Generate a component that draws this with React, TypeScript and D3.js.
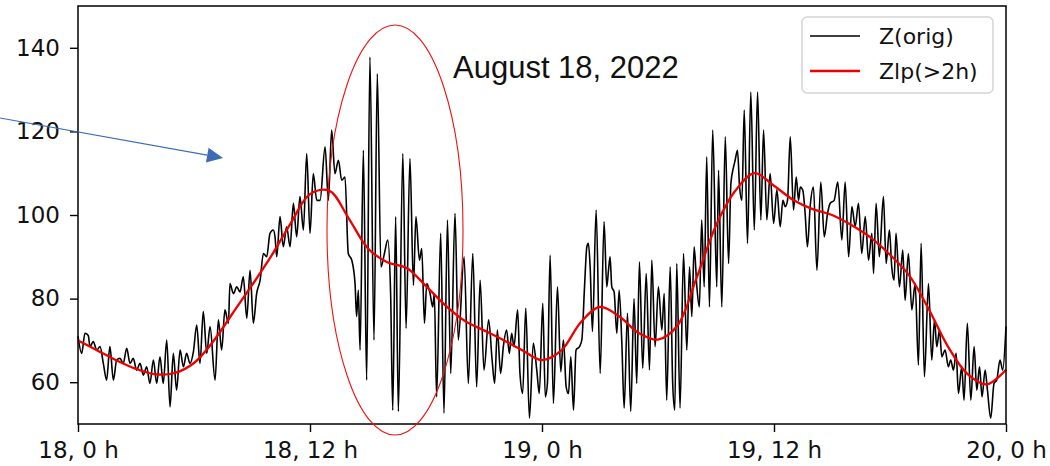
import React, { useEffect, useRef } from "react";
import * as d3 from "d3";

// Z(orig): hand-read vertices (hours since 18 Aug 0 h)
const origHours = [
  0, 0.19, 0.36, 0.53, 0.62, 0.79, 0.97, 1.14, 1.31, 1.48, 1.65, 1.83, 2.0, 2.17, 2.34, 2.52, 2.69, 2.86, 3.03, 3.21,
  3.38, 3.55, 3.72, 3.9, 4.07, 4.24, 4.41, 4.59, 4.76, 4.93, 5.1, 5.28, 5.45, 5.62, 5.79, 5.97, 6.14, 6.31, 6.48, 6.66,
  6.83, 7.09, 7.26, 7.43, 7.6, 7.78, 7.86, 8.04, 8.21, 8.38, 8.55, 8.73, 8.9, 9.07, 9.24, 9.42, 9.59, 9.76, 9.93, 10.1,
  10.19, 10.28, 10.45, 10.62, 10.79, 10.97, 11.14, 11.31, 11.48, 11.66, 11.83, 12.0, 12.17, 12.35, 12.52, 12.78, 12.95, 13.12, 13.29, 13.47,
  13.64, 13.81, 13.98, 14.16, 14.33, 14.41, 14.5, 14.59, 14.76, 14.93, 15.1, 15.31, 15.48, 15.67, 15.85, 16.02, 16.17, 16.28, 16.43, 16.57,
  16.8, 16.97, 17.17, 17.35, 17.48, 17.66, 17.78, 17.92, 18.04, 18.21, 18.35, 18.43, 18.55, 18.76, 18.93, 19.11, 19.28, 19.5, 19.67, 19.97,
  20.19, 20.42, 20.62, 20.8, 21.0, 21.24, 21.42, 21.55, 21.69, 21.86, 22.0, 22.17, 22.31, 22.43, 22.55, 22.74, 22.86, 23.0, 23.16, 23.35,
  23.55, 23.73, 23.86, 24.04, 24.17, 24.28, 24.42, 24.59, 24.8, 24.97, 25.11, 25.25, 25.37, 25.49, 25.63, 25.76, 25.94, 26.06, 26.2, 26.32,
  26.4, 26.49, 26.61, 26.8, 27.01, 27.21, 27.35, 27.44, 27.52, 27.61, 27.73, 27.87, 27.99, 28.13, 28.25, 28.42, 28.59, 28.76, 28.9, 29.04,
  29.21, 29.39, 29.56, 29.68, 29.85, 30.02, 30.2, 30.32, 30.45, 30.63, 30.76, 30.87, 30.97, 31.14, 31.32, 31.49, 31.63, 31.75, 31.87, 32.01,
  32.14, 32.26, 32.39, 32.52, 32.66, 32.83, 33.04, 33.13, 33.3, 33.48, 33.65, 33.77, 33.91, 33.99, 34.11, 34.22, 34.34, 34.46, 34.63, 34.8,
  34.98, 35.15, 35.32, 35.46, 35.63, 35.8, 35.98, 36.15, 36.32, 36.46, 36.58, 36.7, 36.84, 37.01, 37.15, 37.27, 37.36, 37.49, 37.61, 37.73,
  37.87, 38.04, 38.22, 38.42, 38.6, 38.77, 38.91, 39.11, 39.3, 39.51, 39.68, 39.86, 40.03, 40.2, 40.37, 40.54, 40.72, 40.89, 41.06, 41.15,
  41.28, 41.45, 41.66, 41.8, 41.97, 42.09, 42.21, 42.31, 42.49, 42.66, 42.78, 42.95, 43.13, 43.3, 43.47, 43.61, 43.78, 43.99, 44.16, 44.3,
  44.42, 44.56, 44.68, 44.85, 45.02, 45.14, 45.28, 45.42, 45.54, 45.71, 45.83, 46.0, 46.18, 46.35, 46.49, 46.63, 46.76, 46.92, 47.04, 47.21,
  47.38, 47.52, 47.69, 47.83, 48.0,
];
const origZ = [
  71, 66.9, 71.7, 71.2, 68.5, 69.7, 67.7, 68.5, 64.5, 60.5, 68.5, 60.5, 65.3, 65.7, 64.5, 68.1, 64.5, 65.7, 62.9, 64.5,
  61.7, 63.7, 59.7, 65.3, 59.7, 66.1, 59.7, 70.1, 54.1, 66.9, 58.1, 67.7, 63.7, 66.9, 64.5, 67.3, 73.7, 64.5, 76.9, 66.9,
  73.3, 60.5, 74.9, 67.7, 77.3, 74.1, 83.6, 81.2, 82.8, 81.6, 85.2, 75.3, 86.8, 74.1, 81.2, 84.4, 90.8, 90.0, 95.6, 96.4,
  94.8, 90.0, 99.6, 92.4, 97.2, 92.4, 102.8, 94.8, 104.4, 96.4, 114.7, 95.6, 109.9, 103.5, 103.5, 116.3, 103.5, 120.3, 109.9, 113.1,
  108.3, 109.1, 90.8, 89.2, 83.6, 75.7, 82.0, 67.7, 115.5, 60.5, 137.8, 70.1, 133.8, 87.6, 90.8, 94.0, 81.2, 53.3, 99.6, 53.0,
  114.7, 72.9, 113.5, 83.2, 99.6, 89.2, 92.0, 74.1, 83.6, 81.2, 78.0, 81.2, 56.5, 95.6, 52.6, 98.8, 62.1, 100.4, 70.1, 90.0,
  59.7, 90.8, 58.9, 84.4, 62.9, 74.9, 65.3, 59.7, 72.5, 62.1, 68.5, 72.5, 66.9, 71.7, 68.5, 77.3, 62.1, 57.3, 77.7, 51.4,
  69.3, 62.9, 57.3, 78.9, 56.5, 59.7, 90.4, 54.9, 82.8, 62.5, 70.1, 58.9, 57.3, 66.1, 53.3, 67.7, 68.5, 70.1, 82.8, 92.4,
  93.2, 87.6, 72.1, 101.2, 62.1, 98.4, 82.8, 86.8, 90.0, 82.8, 81.6, 71.7, 82.0, 69.3, 53.8, 76.5, 53.0, 80.0, 59.7, 88.8,
  63.3, 86.0, 62.9, 89.2, 68.5, 82.8, 72.5, 81.2, 55.7, 87.6, 59.7, 53.3, 88.4, 53.8, 90.8, 67.7, 87.6, 75.7, 92.4, 82.8,
  78.0, 98.8, 82.8, 113.9, 78.0, 120.3, 82.8, 110.7, 78.0, 118.7, 88.4, 107.5, 111.5, 113.1, 115.5, 106.7, 103.5, 125.1, 93.2, 129.4,
  96.4, 129.4, 98.8, 120.3, 98.8, 109.9, 98.0, 106.0, 97.2, 103.5, 102.0, 103.5, 118.7, 101.2, 109.1, 103.5, 106.7, 105.9, 100.4, 92.4,
  102.0, 106.7, 86.8, 107.9, 94.8, 100.4, 102.8, 103.5, 107.9, 94.0, 107.9, 90.0, 102.0, 97.2, 102.8, 90.8, 99.6, 89.2, 95.6, 86.0,
  102.8, 90.0, 104.4, 88.4, 96.4, 87.6, 84.4, 95.6, 82.8, 91.6, 79.6, 90.8, 77.3, 83.6, 64.1, 93.2, 61.3, 83.6, 65.3, 74.9,
  68.5, 72.5, 66.1, 67.7, 63.7, 65.3, 62.9, 66.9, 57.3, 63.7, 55.7, 74.1, 55.7, 68.5, 58.1, 63.7, 56.5, 62.9, 58.1, 51.4,
  59.7, 60.5, 65.3, 62.9, 73.3,
];

// Zlp(>2h): low-pass curve, hourly
const lpHours = [
  0, 1, 2, 3, 4, 5, 6, 7, 8, 9, 10, 11, 12, 13, 14, 15, 16, 17, 18, 19, 20, 21, 22, 23, 24,
  25, 26, 27, 28, 29, 30, 31, 32, 33, 34, 35, 36, 37, 38, 39, 40, 41, 42, 43, 44, 45, 46, 47, 48,
];
const lpZ = [
  70, 67.6, 65.2, 63.2, 61.9, 62.2, 64.6, 69.8, 76.5, 83.2, 90.2, 98, 105, 105.8, 99.2, 92, 88.7, 87.3, 83, 78.4, 74.7, 72.4, 70.1, 67.6, 65.3,
  67.6, 74.3, 78, 75.7, 71.8, 70.2, 73.5, 85, 97.5, 105.8, 110, 107, 103.6, 101.4, 100, 97.6, 94.6, 90.5, 85.5, 77.5, 68.5, 62, 59.5, 63,
];

const xTickHours = [0, 12, 24, 36, 48];
const xTickLabels = ["18, 0 h", "18, 12 h", "19, 0 h", "19, 12 h", "20, 0 h"];
const yTicks = [60, 80, 100, 120, 140];
const legendNames = ["Z(orig)", "Zlp(>2h)"];
const legendColors = ["#000000", "#ee0000"];

const App = () => {
  const ref = useRef<SVGSVGElement>(null);

  useEffect(() => {
    const width = 1050;
    const height = 466;
    const margin = { top: 6, left: 78, bottom: 42, right: 44 };

    const svg = d3.select(ref.current);
    svg.selectAll("*").remove();

    const x = d3.scaleLinear().domain([0, 48]).range([margin.left, width - margin.right]);
    const y = d3.scaleLinear().domain([50, 150]).range([height - margin.bottom, margin.top]);

    // lines
    const origData = origHours.map((h, i) => [h, origZ[i]] as [number, number]);
    const lpData = lpHours.map((h, i) => [h, lpZ[i]] as [number, number]);

    const origLine = d3.line<[number, number]>()
      .x((d) => x(d[0]))
      .y((d) => y(d[1]))
      .curve(d3.curveMonotoneX);
    const lpLine = d3.line<[number, number]>()
      .x((d) => x(d[0]))
      .y((d) => y(d[1]))
      .curve(d3.curveCatmullRom);

    svg.append("path")
      .datum(origData)
      .attr("d", origLine)
      .attr("fill", "none")
      .attr("stroke", legendColors[0])
      .attr("stroke-width", 1.6)
      .attr("stroke-linejoin", "round");

    svg.append("path")
      .datum(lpData)
      .attr("d", lpLine)
      .attr("fill", "none")
      .attr("stroke", legendColors[1])
      .attr("stroke-width", 2.3);

    // axes
    const xAxis = (g: any) =>
      g.attr("transform", `translate(0, ${height - margin.bottom})`)
        .call(d3.axisBottom(x).tickValues(xTickHours)
          .tickFormat((_d: any, i: number) => xTickLabels[i])
          .tickSize(8).tickPadding(10))
        .call((g: any) => g.select(".domain").remove());
    const yAxis = (g: any) =>
      g.attr("transform", `translate(${margin.left}, 0)`)
        .call(d3.axisLeft(y).tickValues(yTicks).tickSize(8).tickPadding(10))
        .call((g: any) => g.select(".domain").remove());

    [svg.append("g").call(xAxis), svg.append("g").call(yAxis)].forEach((g) => {
      g.attr("font-family", "DejaVu Sans").attr("font-size", 23);
      g.selectAll("line").attr("stroke", "#000").attr("stroke-width", 1.4);
      g.selectAll("text").attr("fill", "#111");
    });

    // frame
    svg.append("rect")
      .attr("x", margin.left)
      .attr("y", margin.top)
      .attr("width", width - margin.left - margin.right)
      .attr("height", height - margin.top - margin.bottom)
      .attr("fill", "none")
      .attr("stroke", "#000")
      .attr("stroke-width", 1.5);

    // annotation: ellipse round the burst
    svg.append("ellipse")
      .attr("cx", 395).attr("cy", 230)
      .attr("rx", 68).attr("ry", 205)
      .attr("fill", "none")
      .attr("stroke", "#ee1111")
      .attr("stroke-width", 1.1);

    // annotation: blue arrow
    const a0 = [0, 118];
    const a1 = [223, 158];
    const ang = Math.atan2(a1[1] - a0[1], a1[0] - a0[0]);
    const hl = 16, hw = 7.5;
    const bx = a1[0] - hl * Math.cos(ang), by = a1[1] - hl * Math.sin(ang);
    svg.append("line")
      .attr("x1", a0[0]).attr("y1", a0[1])
      .attr("x2", bx).attr("y2", by)
      .attr("stroke", "#3c6cb4")
      .attr("stroke-width", 1.2);
    svg.append("path")
      .attr("d", `M${a1[0]},${a1[1]} L${bx - hw * Math.sin(ang)},${by + hw * Math.cos(ang)} L${bx + hw * Math.sin(ang)},${by - hw * Math.cos(ang)} Z`)
      .attr("fill", "#3c6cb4");

    svg.append("text")
      .attr("x", 453).attr("y", 78)
      .attr("font-family", "Liberation Sans, Arial, sans-serif")
      .attr("font-size", 31)
      .attr("fill", "#111")
      .text("August 18, 2022");

    // legend
    const lg = svg.append("g");
    lg.append("rect")
      .attr("x", 802).attr("y", 17)
      .attr("width", 191).attr("height", 76)
      .attr("rx", 5)
      .attr("fill", "#fff")
      .attr("stroke", "#d4d4d4")
      .attr("stroke-width", 1.5);
    legendNames.forEach((name, i) => {
      const ly = 36 + i * 35;
      lg.append("line")
        .attr("x1", 810).attr("x2", 860)
        .attr("y1", ly).attr("y2", ly)
        .attr("stroke", legendColors[i])
        .attr("stroke-width", i === 0 ? 1.6 : 2.3);
      lg.append("text")
        .attr("x", 879).attr("y", ly)
        .attr("dy", "0.36em")
        .attr("font-family", "DejaVu Sans")
        .attr("font-size", 22)
        .attr("fill", "#111")
        .text(name);
    });
  }, []);

  return (
    <svg
      ref={ref}
      width={1050}
      height={466}
      style={{ position: "absolute", left: 0, top: 0, background: "#fff" }}
    />
  );
};

export default App;
